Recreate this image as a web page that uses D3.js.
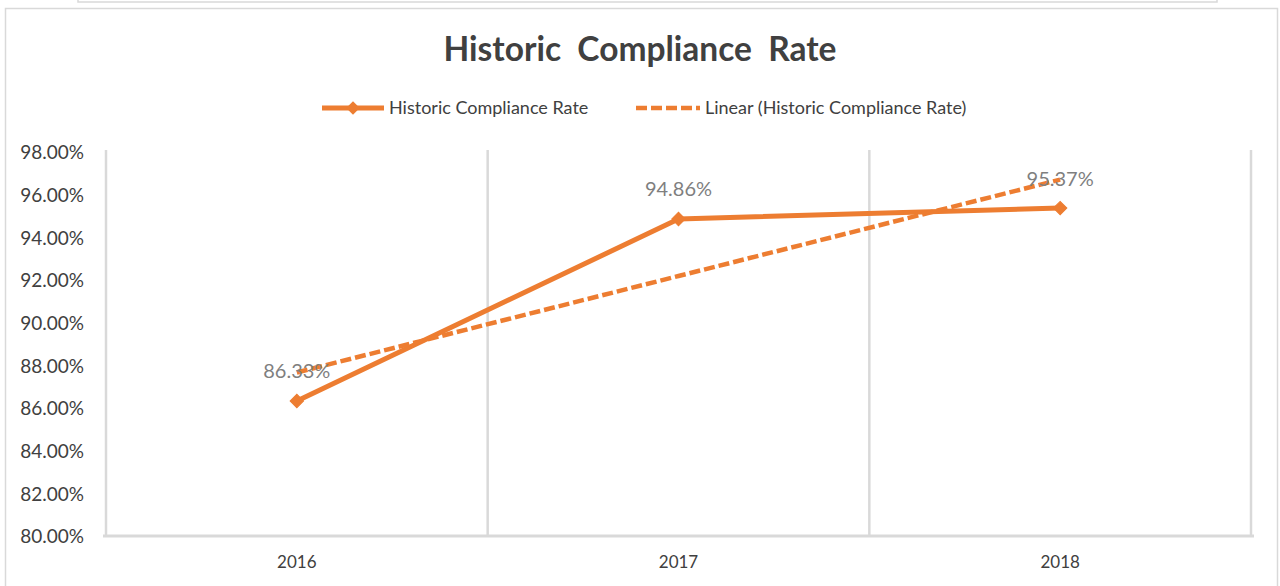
<!DOCTYPE html>
<html>
<head>
<meta charset="utf-8">
<script src="https://cdn.jsdelivr.net/npm/d3@7"></script>
<style>
  html, body { margin: 0; padding: 0; background: #fff; }
  svg { display: block; }
</style>
</head>
<body>
<svg id="chart" width="1280" height="586"></svg>
<script>
const title = "Historic  Compliance  Rate";
const categories = ["2016", "2017", "2018"];
const rates = [0.8633, 0.9486, 0.9537];
const dataLabels = ["86.33%", "94.86%", "95.37%"];
const yTicks = [0.80, 0.82, 0.84, 0.86, 0.88, 0.90, 0.92, 0.94, 0.96, 0.98];
const seriesName = "Historic Compliance Rate";
const trendName = "Linear (Historic Compliance Rate)";

const orange = "#ED7D31";
const grid = "#d9d9d9";
const font = "Lato, 'Open Sans', sans-serif";

const svg = d3.select("#chart");

// frames
svg.append("rect").attr("x", 78).attr("y", -10).attr("width", 1139).attr("height", 12)
  .attr("fill", "none").attr("stroke", grid).attr("stroke-width", 1.5);
svg.append("rect").attr("x", 5.5).attr("y", 8.5).attr("width", 1272).attr("height", 600)
  .attr("fill", "#fff").attr("stroke", grid).attr("stroke-width", 1.5);

const x = d3.scaleBand().domain(categories).range([106, 1251]).padding(0);
const y = d3.scaleLinear().domain([0.80, 0.98]).range([536, 152]);

// vertical gridlines at category boundaries
const bounds = categories.map(c => x(c)).concat([x.range()[1]]);
svg.append("g").selectAll("line").data(bounds).join("line")
  .attr("x1", d => d).attr("x2", d => d)
  .attr("y1", y(0.98) - 2).attr("y2", y(0.80))
  .attr("stroke", grid).attr("stroke-width", 2.5);

// bottom axis line
svg.append("line").attr("x1", x.range()[0] - 3).attr("x2", x.range()[1] + 3)
  .attr("y1", y(0.80)).attr("y2", y(0.80))
  .attr("stroke", grid).attr("stroke-width", 3);

// y axis
const yAxis = d3.axisLeft(y).tickValues(yTicks).tickSize(0).tickPadding(0)
  .tickFormat(d3.format(".2%"));
const gy = svg.append("g").attr("transform", "translate(84,0)").call(yAxis);
gy.select(".domain").remove();
gy.selectAll("text").attr("font-family", font).attr("font-size", 19)
  .attr("fill", "#404040").attr("dy", "0.36em");

// x axis
const xAxis = d3.axisBottom(x).tickSize(0).tickPadding(0);
const gx = svg.append("g").attr("transform", "translate(0,536)").call(xAxis);
gx.select(".domain").remove();
gx.selectAll("text").attr("font-family", font).attr("font-size", 17)
  .attr("fill", "#404040").attr("dy", "0").attr("y", 31.5);

const cx = c => x(c) + x.bandwidth() / 2;

// linear trendline (least squares over category index)
const idx = categories.map((c, i) => i + 1);
const mx = d3.mean(idx), my = d3.mean(rates);
const slope = d3.sum(idx.map((v, i) => (v - mx) * (rates[i] - my))) / d3.sum(idx.map(v => (v - mx) ** 2));
const icpt = my - slope * mx;
const trend = idx.map(v => icpt + slope * v);

const line = d3.line().x((d, i) => cx(categories[i])).y(d => y(d));

svg.append("path").datum(rates).attr("d", line)
  .attr("fill", "none").attr("stroke", orange).attr("stroke-width", 5)
  .attr("stroke-linejoin", "round");

svg.append("path").datum(trend).attr("d", line)
  .attr("fill", "none").attr("stroke", orange).attr("stroke-width", 4.5)
  .attr("stroke-dasharray", "11,4");

const diamond = d3.symbol(d3.symbolSquare, 90);
svg.append("g").selectAll("path").data(rates).join("path")
  .attr("d", diamond)
  .attr("transform", (d, i) => `translate(${cx(categories[i])},${y(d)}) rotate(45)`)
  .attr("fill", orange).attr("stroke", orange).attr("stroke-width", 1);

// data labels
svg.append("g").selectAll("text").data(rates).join("text")
  .attr("x", (d, i) => cx(categories[i]))
  .attr("y", d => y(d) - 22.5)
  .attr("text-anchor", "middle")
  .attr("font-family", font).attr("font-size", 20)
  .attr("fill", "#7f7f7f")
  .text((d, i) => dataLabels[i]);

// title
svg.append("text").attr("x", 640).attr("y", 61).attr("text-anchor", "middle")
  .attr("font-family", font).attr("font-weight", "bold").attr("font-size", 33.5)
  .attr("fill", "#404040").style("white-space", "pre").attr("xml:space", "preserve")
  .text(title);

// legend
const ly = 108;
const lg = svg.append("g");
lg.append("line").attr("x1", 322).attr("x2", 384).attr("y1", ly).attr("y2", ly)
  .attr("stroke", orange).attr("stroke-width", 5);
lg.append("path").attr("d", diamond).attr("transform", `translate(353,${ly}) rotate(45)`)
  .attr("fill", orange);
lg.append("text").attr("x", 389).attr("y", ly).attr("dy", "0.36em")
  .attr("font-family", font).attr("font-size", 18).attr("fill", "#404040").text(seriesName);
lg.append("line").attr("x1", 636).attr("x2", 700).attr("y1", ly).attr("y2", ly)
  .attr("stroke", orange).attr("stroke-width", 4.5).attr("stroke-dasharray", "11,4");
lg.append("text").attr("x", 705).attr("y", ly).attr("dy", "0.36em")
  .attr("font-family", font).attr("font-size", 18).attr("fill", "#404040").text(trendName);
</script>
</body>
</html>
